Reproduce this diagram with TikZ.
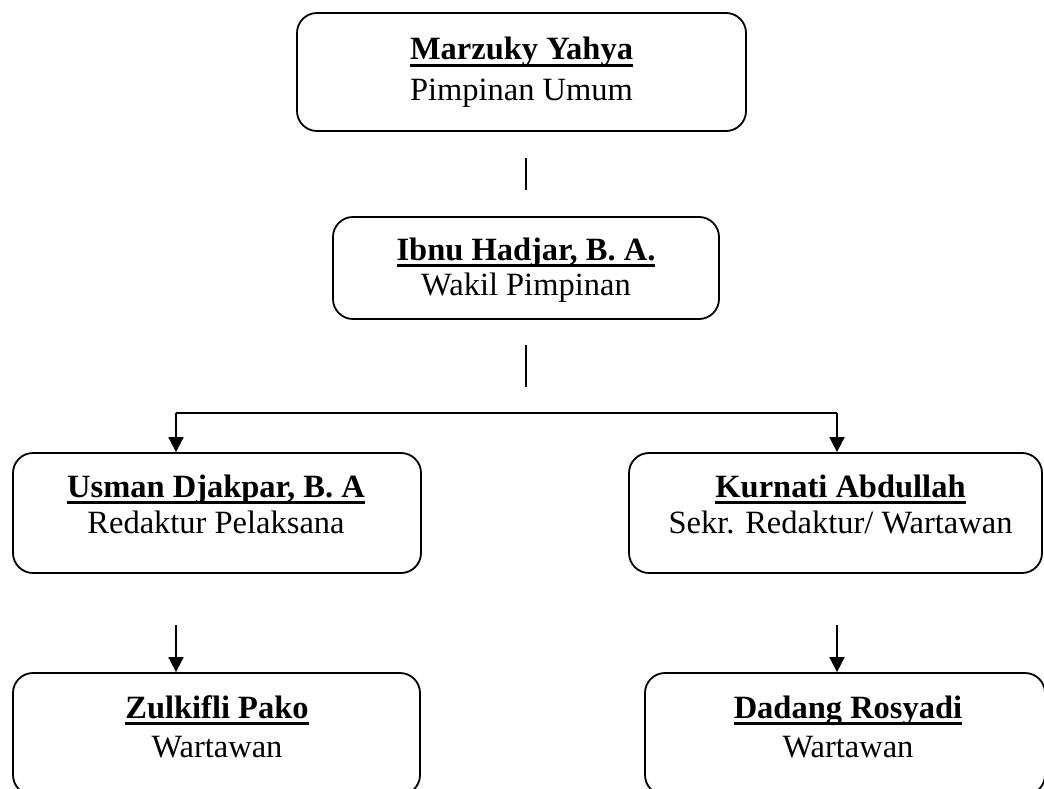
\documentclass[tikz,border=0pt]{standalone}
\usepackage{fontspec}
\setmainfont{Liberation Serif}
\usetikzlibrary{arrows.meta}
\newcommand\uln[1]{\leavevmode\setbox0=\hbox{#1}\rlap{\rule[-7pt]{\wd0}{3.2pt}}\box0}
\tikzset{
  box/.style={draw, line width=1.8pt, rounded corners=20pt, inner sep=0pt},
  nm/.style={anchor=base, inner sep=0pt, font=\fontsize{32.5}{38}\selectfont\bfseries},
  rl/.style={anchor=base, inner sep=0pt, font=\fontsize{32.5}{38}\selectfont},
  con/.style={line width=1.8pt},
  arr/.style={line width=1.8pt, -{Triangle[width=15pt,length=15pt]}},
}
\begin{document}
\begin{tikzpicture}[x=1pt,y=-1pt]
\useasboundingbox (0,0) rectangle (1044,789);
% boxes
\node[box, minimum width=449pt, minimum height=118pt] (b1) at (521.5,72) {};
\node[box, minimum width=386pt, minimum height=102pt] (b2) at (526,268) {};
\node[box, minimum width=408pt, minimum height=120pt] (b3l) at (217,513) {};
\node[box, minimum width=413pt, minimum height=120pt] (b3r) at (835.5,513) {};
\node[box, minimum width=407pt, minimum height=122pt] (b4l) at (216.5,734) {};
\node[box, minimum width=400pt, minimum height=122pt] (b4r) at (845,734) {};
% texts
\node[nm] (n1) at (521.5,60) {\uln{Marzuky Yahya}};
\node[rl] (r1) at (521.5,101) {Pimpinan Umum};
\node[nm] (n2) at (526,260) {\uln{Ibnu Hadjar, B. A.}};
\node[rl] (r2) at (526,295) {Wakil Pimpinan};
\node[nm] (n3l) at (216,497) {\uln{Usman Djakpar, B. A}};
\node[rl] (r3l) at (216,533) {Redaktur Pelaksana};
\node[nm] (n3r) at (840.5,497) {\uln{Kurnati Abdullah}};
\node[rl] (r3r) at (840.5,533) {Sekr. Redaktur/ Wartawan};
\node[nm] (n4l) at (217,718) {\uln{Zulkifli Pako}};
\node[rl] (r4l) at (217,757) {Wartawan};
\node[nm] (n4r) at (848,718) {\uln{Dadang Rosyadi}};
\node[rl] (r4r) at (848,757) {Wartawan};
% connectors
\coordinate (s1a) at (526,158);
\coordinate (s1b) at (526,190);
\coordinate (s2a) at (526,345);
\coordinate (s2b) at (526,387);
\coordinate (hl) at (176,413);
\coordinate (hr) at (837,413);
\coordinate (dl) at (176,625);
\coordinate (dr) at (837,625);
\draw[line width=1.4pt] (s1a) -- (s1b);
\draw[line width=1.4pt] (s2a) -- (s2b);
\draw[con] (hl) -- (hr);
\draw[arr] (hl) -- (hl |- b3l.north);
\draw[arr] (hr) -- (hr |- b3r.north);
\draw[arr] (dl) -- (dl |- b4l.north);
\draw[arr] (dr) -- (dr |- b4r.north);
\end{tikzpicture}
\end{document}
